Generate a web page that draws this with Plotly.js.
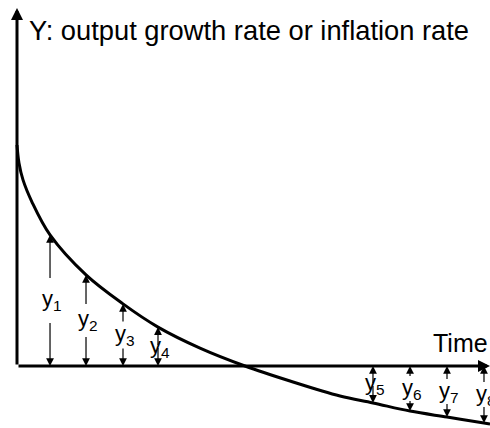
<!DOCTYPE html>
<html>
<head>
<meta charset="utf-8">
<script src="https://cdn.plot.ly/plotly-3.0.1.min.js"></script>
<style>html,body{margin:0;padding:0;background:#fff;}#chart{width:490px;height:428px;}</style>
</head>
<body>
<div id="chart"></div>
<script>
// ---- data ----
const curveT = [0, 0.042, 0.127, 0.317, 0.698, 1.459, 2.241, 2.981, 3.869, 4.82, 5.772, 6.829, 7.526, 8.309, 9.091, 9.873, 10];
const curveY = [10.0, 9.19, 8.42, 7.42, 5.93, 4.12, 2.81, 1.76, 0.81, 0, -0.68, -1.36, -1.67, -2.04, -2.31, -2.58, -2.62];
const arrowT = [0.698, 1.459, 2.241, 2.981, 7.526, 8.309, 9.091, 9.873];
const arrowY = [5.93, 4.12, 2.81, 1.76, -1.67, -2.04, -2.31, -2.58];
const arrowLabels = ['y<sub>1</sub>','y<sub>2</sub>','y<sub>3</sub>','y<sub>4</sub>','y<sub>5</sub>','y<sub>6</sub>','y<sub>7</sub>','y<sub>8</sub>'];
const yTitle = 'Y: output growth rate or inflation rate';
const xTitle = 'Time';
const tMax = 10, yTop = 16.2;

// ---- style ----
const gaps = [21, 15, 12, 0, 0, 11, 11, 11];
const FONT = 'Liberation Sans, Arial, Helvetica, sans-serif';

const ann = [];
// axes as arrows
ann.push({xref:'x', yref:'y', axref:'x', ayref:'y', x:tMax, y:0, ax:0, ay:0, text:'', showarrow:true,
  arrowhead:2, arrowsize:0.8, arrowwidth:3, arrowcolor:'#000'});
ann.push({xref:'x', yref:'y', axref:'x', ayref:'y', x:0, y:yTop, ax:0, ay:0, text:'', showarrow:true,
  arrowhead:2, arrowsize:0.8, arrowwidth:3, arrowcolor:'#000'});
// double arrows
arrowT.forEach((t, i) => {
  const mid = arrowY[i] / 2;
  [arrowY[i], 0].forEach(tip => {
    ann.push({xref:'x', yref:'y', axref:'x', ayref:'y', x:t, y:tip, ax:t, ay:mid, text:'', showarrow:true,
      arrowhead:2, arrowsize:1.3, arrowwidth:1.2, arrowcolor:'#000', startstandoff:gaps[i]});
  });
  ann.push({xref:'x', yref:'y', x:t, y:mid, text:arrowLabels[i], showarrow:false, xanchor:'center', yanchor:'middle',
    xshift:2, font:{family:FONT, size:22, color:'#000'}});
});
// titles
ann.push({xref:'paper', yref:'paper', x:27/490, y:1-31/428, xanchor:'left', yanchor:'middle', text:yTitle,
  showarrow:false, font:{family:FONT, size:27.3, color:'#000'}});
ann.push({xref:'paper', yref:'paper', x:1, y:1-343/428, xanchor:'right', yanchor:'middle', text:xTitle,
  showarrow:false, font:{family:FONT, size:25, color:'#000'}});

const trace = {x:curveT, y:curveY, mode:'lines', line:{color:'#000', width:3, shape:'spline', smoothing:1}, hoverinfo:'skip'};

const layout = {
  width:490, height:428, margin:{l:0, r:0, t:0, b:0},
  paper_bgcolor:'#fff', plot_bgcolor:'#fff', showlegend:false,
  xaxis:{range:[-17/47.3, 10], visible:false, fixedrange:true},
  yaxis:{range:[(366-428)/22.1, 366/22.1], visible:false, fixedrange:true},
  annotations:ann
};
Plotly.newPlot('chart', [trace], layout, {staticPlot:true, displayModeBar:false});
</script>
</body>
</html>
